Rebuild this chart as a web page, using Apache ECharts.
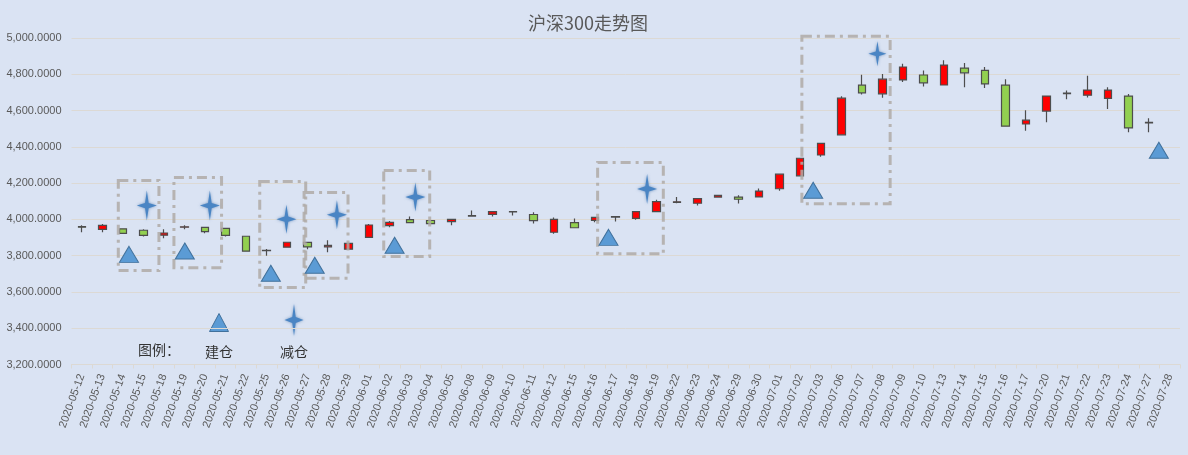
<!DOCTYPE html>
<html><head><meta charset="utf-8">
<script src="https://cdn.jsdelivr.net/npm/echarts@6/dist/echarts.min.js"></script>
<style>html,body{margin:0;padding:0;background:#dae3f3;}#c{width:1188px;height:455px;}</style>
</head><body><div id="c"></div>
<script>
const titleText = '沪深300走势图';
const dates = ['2020-05-12','2020-05-13','2020-05-14','2020-05-15','2020-05-18','2020-05-19','2020-05-20','2020-05-21','2020-05-22','2020-05-25','2020-05-26','2020-05-27','2020-05-28','2020-05-29','2020-06-01','2020-06-02','2020-06-03','2020-06-04','2020-06-05','2020-06-08','2020-06-09','2020-06-10','2020-06-11','2020-06-12','2020-06-15','2020-06-16','2020-06-17','2020-06-18','2020-06-19','2020-06-22','2020-06-23','2020-06-24','2020-06-29','2020-06-30','2020-07-01','2020-07-02','2020-07-03','2020-07-06','2020-07-07','2020-07-08','2020-07-09','2020-07-10','2020-07-13','2020-07-14','2020-07-15','2020-07-16','2020-07-17','2020-07-20','2020-07-21','2020-07-22','2020-07-23','2020-07-24','2020-07-27','2020-07-28'];
const openV  = [3960,3945,3948,3940,3913,3957,3956,3951,3907,3827,3847,3873,3849,3836,3901,3966,3999,3994,3988,4018,4028,4043,4027,3929,3982,3995,4013,4006,4043,4094,4089,4123,4123,4124,4169,4240,4355,4466,4740,4692,4769,4796,4741,4834,4821,4740,4526,4597,4693,4685,4667,4680,4532,null];
const closeV = [3957,3967,3923,3912,3925,3959,3932,3912,3825,3830,3874,3848,3857,3868,3969,3984,3982,3977,4000,4021,4043,4041,3993,4000,3954,4011,4015,4043,4098,4097,4114,4132,4111,4156,4249,4337,4419,4668,4698,4773,4840,4753,4851,4808,4747,4514,4547,4680,4696,4713,4713,4504,4535,null];
const lowV   = [3929,3929,3920,3905,3896,3945,3923,3905,3822,3799,3845,3836,3819,3834,3900,3956,3980,3975,3967,4017,4016,4021,3978,3921,3953,3984,3989,3998,4042,4089,4077,4120,4088,4123,4158,4236,4346,4465,4689,4670,4757,4733,4740,4729,4724,4513,4488,4536,4663,4672,4608,4481,4481,null];
const highV  = [3967,3974,3950,3945,3945,3967,3960,3952,3908,3837,3876,3875,3885,3870,3974,3991,4016,3996,4001,4049,4046,4045,4040,4011,4005,4012,4016,4044,4108,4124,4115,4136,4133,4170,4250,4338,4420,4679,4798,4802,4858,4821,4878,4862,4840,4773,4602,4682,4711,4792,4729,4691,4558,null];
// 建仓 markers: [position in category units, value]
const buildMarks = [[2.30,3807],[5.02,3826],[9.21,3703],[11.35,3747],[15.24,3857],[25.66,3901],[35.63,4161],[52.47,4381]];
// 减仓 markers
const reduceMarks = [[3.17,4076],[6.24,4076],[9.97,4001],[12.43,4025],[16.25,4123],[27.54,4168],[38.76,4913]];
const reduceSizes = [[20,30],[20,30],[20,29],[20,29],[20,29],[20,30],[18,25]];
// dash-dot boxes: [xLeft, xRight, yTop, yBottom]
const boxes = [[1.78,3.76,4214,3718],[4.49,6.81,4231,3734],[8.67,10.91,4209,3624],[10.83,12.97,4148,3676],[14.71,16.95,4269,3795],[25.13,28.33,4314,3810],[35.08,39.38,5009,4086]];
const yMin = 3200, yMax = 5000, yStep = 200;
const legendLabels = ['图例：','建仓','减仓'];

const STAR = 'path://M50,0 L59,41 L100,50 L59,59 L50,100 L41,59 L0,50 L41,41 Z';
const candleData = dates.map((d,i)=> openV[i]==null ? ['-','-','-','-'] : [openV[i],closeV[i],lowV[i],highV[i]]);
const fmt = v => v.toLocaleString('en-US',{minimumFractionDigits:4, maximumFractionDigits:4});
const TXT = '#595959';
const FONT = '"Liberation Sans","Noto Sans CJK SC",sans-serif';

const chart = echarts.init(document.getElementById('c'), null, {renderer:'canvas'});
chart.setOption({
  backgroundColor:'#dae3f3',
  animation:false,
  title:{text:titleText,left:583,top:9,textAlign:'center',textStyle:{fontSize:18,fontWeight:'normal',color:TXT,fontFamily:'"Noto Sans CJK SC",sans-serif'}},
  grid:{left:71.5,right:8,top:38,bottom:90.5,containLabel:false},
  xAxis:[{
    type:'category',data:dates,boundaryGap:true,
    axisLine:{lineStyle:{color:'#dcd9d4',width:1}},
    axisTick:{show:true,lineStyle:{color:'#dcd9d4'},length:4},
    axisLabel:{interval:0,rotate:70,fontSize:11,color:TXT,margin:10,fontFamily:FONT},
    splitLine:{show:false}
  },{
    type:'value',min:-0.5,max:53.5,show:false
  }],
  yAxis:{
    type:'value',min:yMin,max:yMax,interval:yStep,
    axisLine:{show:false},axisTick:{show:false},
    axisLabel:{formatter:fmt,fontSize:11,color:TXT,margin:10,fontFamily:FONT},
    splitLine:{lineStyle:{color:'#dcd9d4',width:1}}
  },
  series:[{
    type:'candlestick',data:candleData,barWidth:8,
    itemStyle:{color:'#ff0000',color0:'#92d050',borderColor:'#4d4d4d',borderColor0:'#4d4d4d',borderWidth:1.2},
    z:2
  },{
    type:'custom',xAxisIndex:1,yAxisIndex:0,data:boxes,z:4,clip:false,
    renderItem:function(params,api){
      const a = api.coord([api.value(0),api.value(2)]);
      const b = api.coord([api.value(1),api.value(3)]);
      return {type:'rect',shape:{x:a[0],y:a[1],width:b[0]-a[0],height:b[1]-a[1]},
        style:{fill:'none',stroke:'rgba(175,170,166,0.85)',lineWidth:3,lineDash:[10,5,3,5]}};
    }
  },{
    type:'scatter',xAxisIndex:1,data:buildMarks,symbol:'triangle',symbolSize:[19,16],
    itemStyle:{color:'#5b9bd5',borderColor:'#41719c',borderWidth:1,opacity:1},z:6
  },{
    type:'scatter',xAxisIndex:1,
    data:reduceMarks.map((p,i)=>({value:p,symbolSize:reduceSizes[i]})),
    symbol:STAR,
    itemStyle:{color:'#4a85c4',opacity:1,shadowBlur:3,shadowColor:'rgba(50,100,160,0.6)'},z:6
  }],
  graphic:[
    {type:'text',left:138,top:343,style:{text:legendLabels[0],fontSize:14,fill:'#333',fontFamily:'"Noto Sans CJK SC",sans-serif'}},
    {type:'polygon',shape:{points:[[209.5,331.5],[228.5,331.5],[219,313.5]]},style:{fill:'#5b9bd5',stroke:'#41719c',lineWidth:1}},
    {type:'text',x:219,y:352,style:{text:legendLabels[1],fontSize:14,fill:'#333',align:'center',verticalAlign:'middle',fontFamily:'"Noto Sans CJK SC",sans-serif'}},
    {type:'polygon',shape:{points:[[294,304],[295.7,317.1],[303.5,320],[295.7,322.9],[294,336],[292.3,322.9],[284.5,320],[292.3,317.1]]},style:{fill:'#4a85c4',shadowBlur:3,shadowColor:'rgba(50,100,160,0.6)'}},
    {type:'text',x:294,y:352,style:{text:legendLabels[2],fontSize:14,fill:'#333',align:'center',verticalAlign:'middle',fontFamily:'"Noto Sans CJK SC",sans-serif'}}
  ]
});
</script>
</body></html>
